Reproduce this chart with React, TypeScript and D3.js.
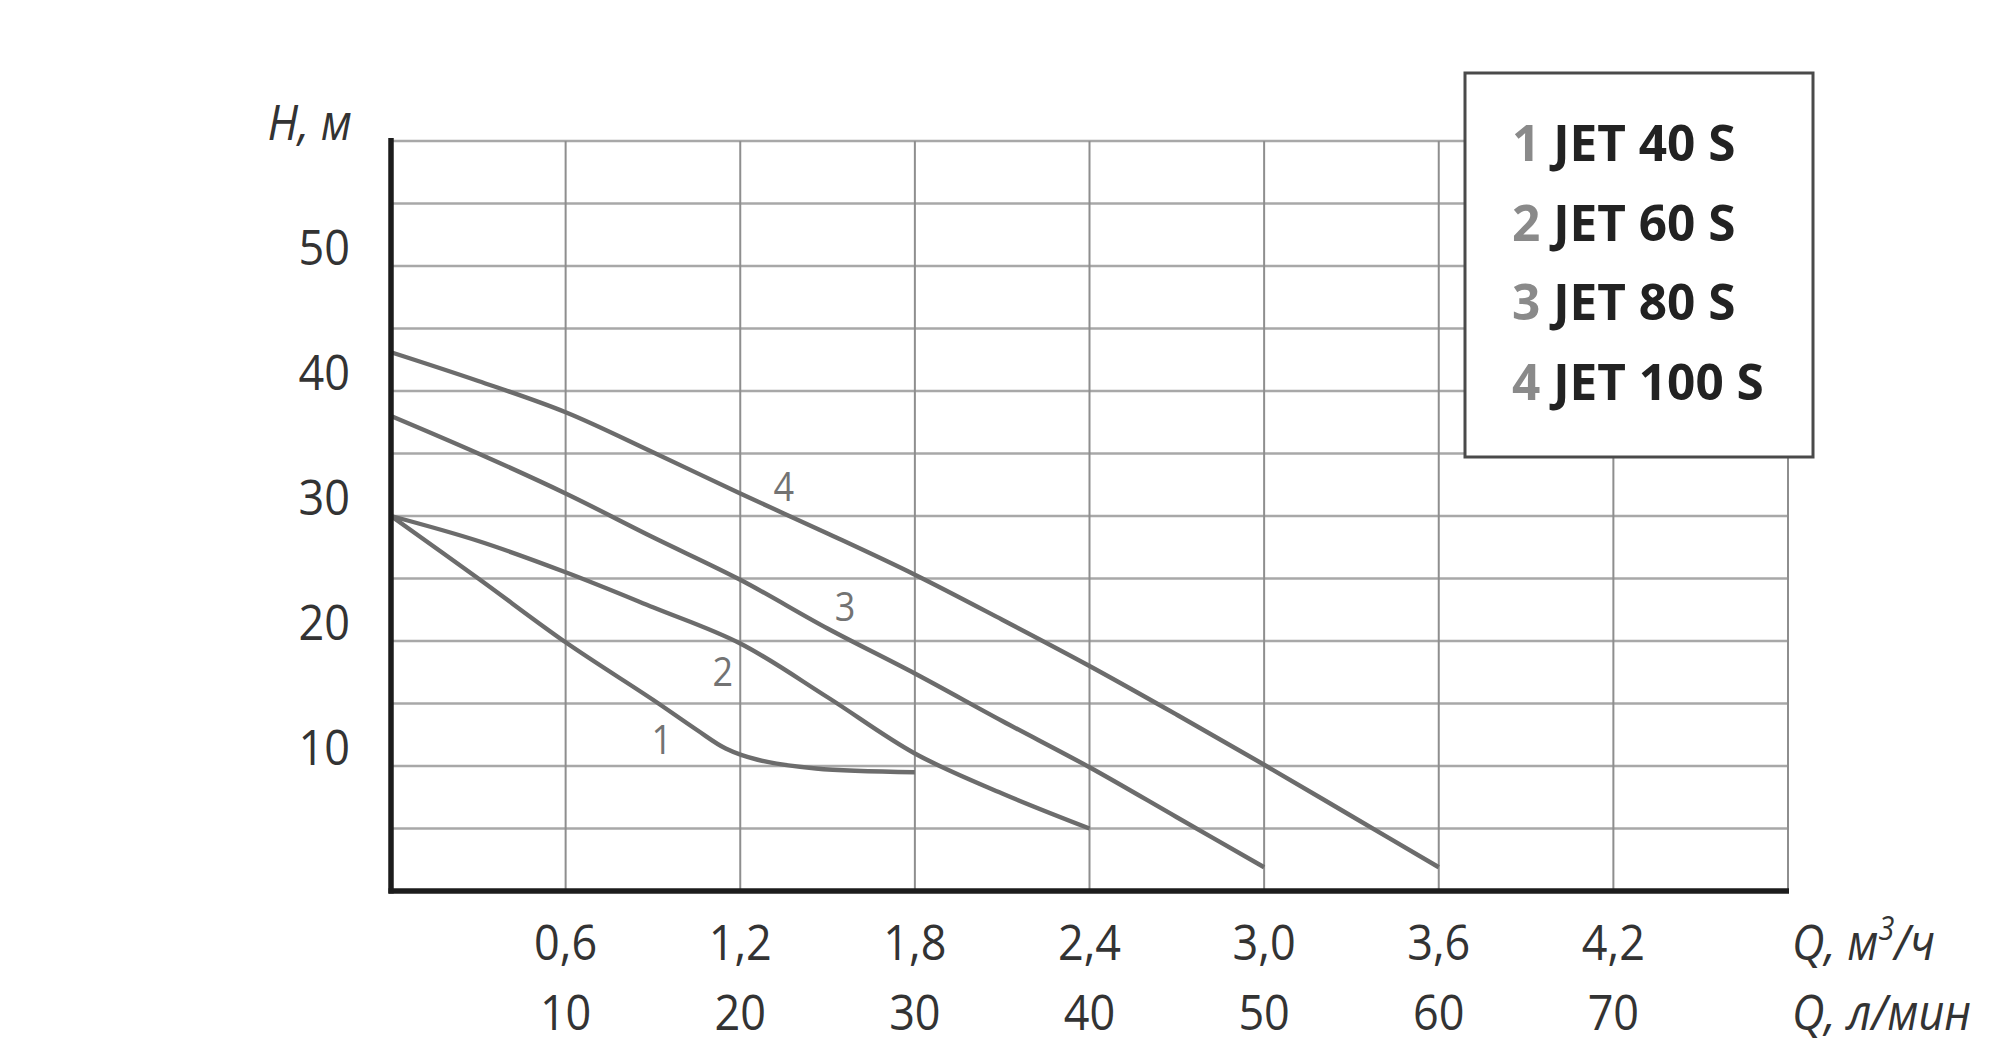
import React from 'react';
import * as d3 from 'd3';

// ---- data ----
const flowTicksM3h = [0.6, 1.2, 1.8, 2.4, 3.0, 3.6, 4.2];
const flowLabelsM3h = ["0,6", "1,2", "1,8", "2,4", "3,0", "3,6", "4,2"];
const flowLabelsLpm = ["10", "20", "30", "40", "50", "60", "70"];
const gridFlow = [0.6, 1.2, 1.8, 2.4, 3.0, 3.6, 4.2, 4.8];
const headTicks = [10, 20, 30, 40, 50];
const gridHead = [5, 10, 15, 20, 25, 30, 35, 40, 45, 50, 55, 60];

const seriesNumbers = ["1", "2", "3", "4"];
const seriesNames = ["JET 40 S", "JET 60 S", "JET 80 S", "JET 100 S"];

const q1 = [0, 0.3, 0.6, 0.9, 1.05, 1.15, 1.26, 1.46, 1.8];
const h1 = [30, 25.0, 19.9, 15.3, 12.9, 11.4, 10.5, 9.8, 9.5];
const q2 = [0, 0.3, 0.6, 0.9, 1.2, 1.5, 1.8, 2.1, 2.4];
const h2 = [30, 28.0, 25.5, 22.7, 19.8, 15.5, 11.0, 7.8, 5.0];
const q3 = [0, 0.3, 0.6, 0.9, 1.2, 1.5, 1.8, 2.1, 2.4, 2.7, 3.0];
const h3 = [38.0, 35.0, 31.8, 28.3, 24.9, 21.0, 17.4, 13.6, 9.9, 5.9, 1.9];
const q4 = [0, 0.3, 0.6, 0.9, 1.2, 1.5, 1.8, 2.1, 2.4, 2.7, 3.0, 3.3, 3.6];
const h4 = [43.1, 40.8, 38.3, 35.1, 31.8, 28.6, 25.3, 21.7, 18.0, 14.1, 10.1, 6.0, 1.9];

const curveLabelQ = [0.93, 1.14, 1.56, 1.35];
const curveLabelH = [12.1, 17.5, 22.7, 32.3];

const seriesQ = [q1, q2, q3, q4];
const seriesH = [h1, h2, h3, h4];

const FONT = "'Open Sans', 'Noto Sans', sans-serif";

export default function App() {
  const x = d3.scaleLinear().domain([0, 4.8]).range([391, 1788]);
  const y = d3.scaleLinear().domain([0, 60]).range([891, 141]);
  const line = d3
    .line<[number, number]>()
    .x((d) => x(d[0]))
    .y((d) => y(d[1]))
    .curve(d3.curveCatmullRom.alpha(0.5));

  const sx = 0.9;

  return (
    <svg
      width={2000}
      height={1052}
      style={{ position: 'absolute', left: 0, top: 0, display: 'block', background: '#fff' }}
    >
      <rect x={0} y={0} width={2000} height={1052} fill="#fff" />
      {/* horizontal grid */}
      {gridHead.map((h) => (
        <line key={'h' + h} x1={x(0)} x2={x(4.8)} y1={y(h)} y2={y(h)} stroke="#a8a8a8" strokeWidth={2.6} />
      ))}
      {/* vertical grid */}
      {gridFlow.map((q) => (
        <line key={'v' + q} x1={x(q)} x2={x(q)} y1={y(60)} y2={y(0)} stroke="#8e8e8e" strokeWidth={2} />
      ))}
      {/* curves */}
      {seriesQ.map((qs, i) => (
        <path
          key={'c' + i}
          d={line(qs.map((q, j) => [q, seriesH[i][j]] as [number, number])) || ''}
          fill="none"
          stroke="#6c6c6c"
          strokeWidth={4.4}
          strokeLinecap="butt"
        />
      ))}
      {/* curve labels */}
      {seriesNumbers.map((n, i) => (
        <text
          key={'cl' + i}
          transform={`translate(${x(curveLabelQ[i])},${y(curveLabelH[i]) + 14}) scale(${sx},1)`}
          textAnchor="middle"
          fontFamily={FONT}
          fontSize={40}
          fill="#737373"
        >
          {n}
        </text>
      ))}
      {/* axes */}
      <line x1={x(0)} x2={x(0)} y1={y(60) - 3} y2={y(0) + 2.5} stroke="#1c1c1c" strokeWidth={5.5} />
      <line x1={x(0) - 2.5} x2={x(4.8) + 1} y1={y(0)} y2={y(0)} stroke="#1c1c1c" strokeWidth={5.5} />

      {/* y tick labels */}
      {headTicks.map((h) => (
        <text
          key={'yt' + h}
          transform={`translate(350,${y(h) - 1}) scale(${sx},1)`}
          textAnchor="end"
          fontFamily={FONT}
          fontSize={50}
          fill="#333"
        >
          {h}
        </text>
      ))}
      <text
        transform={`translate(352,140) scale(${sx},1)`}
        textAnchor="end"
        fontFamily={FONT}
        fontSize={50}
        fontStyle="italic"
        fill="#333"
      >
        H, м
      </text>

      {/* x tick labels */}
      {flowTicksM3h.map((q, i) => (
        <g key={'xt' + i}>
          <text
            transform={`translate(${x(q)},960) scale(${sx},1)`}
            textAnchor="middle"
            fontFamily={FONT}
            fontSize={50}
            fill="#333"
          >
            {flowLabelsM3h[i]}
          </text>
          <text
            transform={`translate(${x(q)},1030) scale(${sx},1)`}
            textAnchor="middle"
            fontFamily={FONT}
            fontSize={50}
            fill="#333"
          >
            {flowLabelsLpm[i]}
          </text>
        </g>
      ))}
      <text
        transform={`translate(1792,960) scale(${sx},1)`}
        fontFamily={FONT}
        fontSize={50}
        fontStyle="italic"
        fill="#333"
      >
        Q, м<tspan fontSize={32} dy={-20}>3</tspan>
        <tspan dy={20}>/ч</tspan>
      </text>
      <text
        transform={`translate(1792,1030) scale(${sx},1)`}
        fontFamily={FONT}
        fontSize={50}
        fontStyle="italic"
        fill="#333"
      >
        Q, л/мин
      </text>

      {/* legend */}
      <rect x={1465} y={73} width={348} height={384} fill="#fff" stroke="#4a4a4a" strokeWidth={3} />
      {seriesNames.map((name, i) => (
        <text
          key={'lg' + i}
          transform={`translate(1512,${161 + i * 79.5}) scale(0.99,1)`}
          fontFamily={FONT}
          fontSize={50}
          fontWeight="bold"
          fill="#222"
        >
          <tspan fill="#8a8a8a">{seriesNumbers[i]}</tspan>
          <tspan> {name}</tspan>
        </text>
      ))}
    </svg>
  );
}
